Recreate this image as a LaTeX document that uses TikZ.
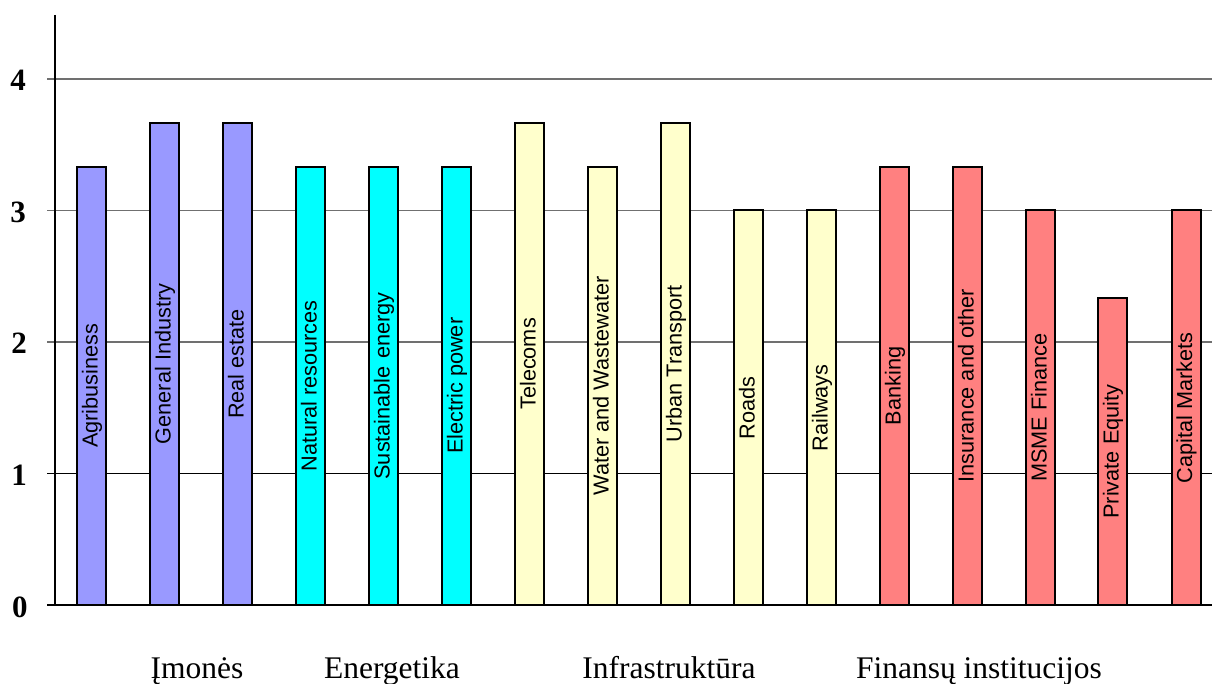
\documentclass[tikz,border=0pt]{standalone}
\usepackage{fontspec}
\setmainfont{Liberation Serif}
\newfontfamily\arialf{Liberation Sans}
\definecolor{barA}{HTML}{9999FF}
\definecolor{barB}{HTML}{00FFFF}
\definecolor{barC}{HTML}{FFFFCC}
\definecolor{barD}{HTML}{FF8080}
\definecolor{gridgray}{HTML}{707070}
\begin{document}
\begin{tikzpicture}[x=1pt,y=-1pt,
  barbox/.style={draw=black, line width=2pt, minimum width=29pt, inner sep=0pt, outer sep=0pt, anchor=south},
  barlabel/.style={rotate=90, font=\arialf\fontsize{21.7}{26}\selectfont, inner sep=0pt, text height=0.72em, text depth=0.21em},
  ticklab/.style={font=\fontsize{31}{36}\selectfont\bfseries, inner sep=0pt},
  catlab/.style={font=\fontsize{31.5}{36}\selectfont, inner sep=0pt, anchor=base},
  gridln/.style={line width=1.5pt, draw=gridgray},
  axisln/.style={line width=2pt, draw=black}]
\useasboundingbox (0,0) rectangle (1212,684);
% grid lines
\draw[gridln] (47,79) -- (1212,79);
\draw[gridln] (47,210.5) -- (1212,210.5);
\draw[gridln] (47,342) -- (1212,342);
\draw[gridln, draw=black] (47,473.5) -- (1212,473.5);
% bars and labels
\foreach \i/\cx/\v/\col/\lab in {
  1/91.5/3.3333/barA/Agribusiness,
  2/164.5/3.6667/barA/General Industry,
  3/237.5/3.6667/barA/Real estate,
  4/310.5/3.3333/barB/Natural resources,
  5/383.5/3.3333/barB/Sustainable\hspace{0.35em}energy,
  6/456.5/3.3333/barB/Electric power,
  7/529.5/3.6667/barC/Telecoms,
  8/602.5/3.3333/barC/Water and Wastewater,
  9/675.5/3.6667/barC/Urban Transport,
  10/748.5/3/barC/Roads,
  11/821.5/3/barC/Railways,
  12/894.5/3.3333/barD/Banking,
  13/967.5/3.3333/barD/Insurance and other,
  14/1040.5/3/barD/MSME Finance,
  15/1112.5/2.3333/barD/Private Equity,
  16/1186/3/barD/Capital Markets}{
  \node[barbox, fill=\col, minimum height=\v*131.5pt] (bar\i) at (\cx,605) {};
  \node[barlabel] (lab\i) at ([xshift=3.5pt]bar\i.center) {\lab};
}
% axes
\draw[line width=2.5pt] (47,605) -- (1212,605);
\draw[axisln] (55,15) -- (55,605);
% tick labels
\node[ticklab] (t4) at (18,80) {4};
\node[ticklab] (t3) at (18,212) {3};
\node[ticklab] (t2) at (19,343) {2};
\node[ticklab] (t1) at (19,475) {1};
\node[ticklab] (t0) at (20,607) {0};
% category labels
\node[catlab] (c1) at (197,678) {Įmonės};
\node[catlab] (c2) at (392,678) {Energetika};
\node[catlab] (c3) at (669,678) {Infrastruktūra};
\node[catlab] (c4) at (979,678) {Finansų institucijos};
\end{tikzpicture}
\end{document}
